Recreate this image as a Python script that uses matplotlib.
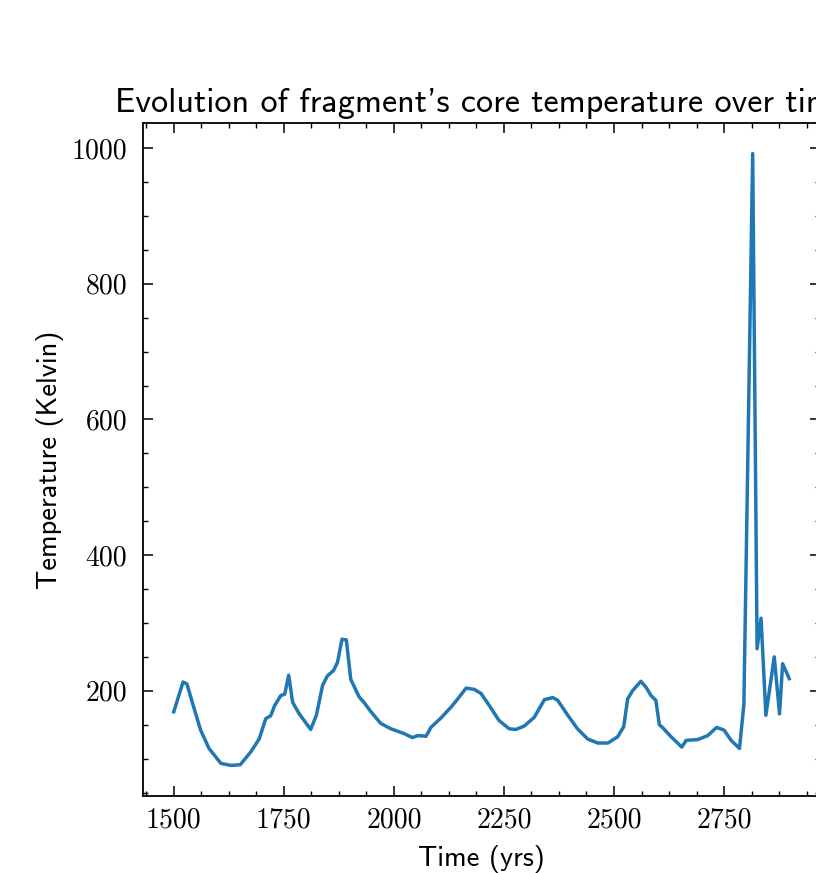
import matplotlib
matplotlib.use("Agg")
import matplotlib.pyplot as plt
from matplotlib.ticker import AutoMinorLocator

# values
time_yrs = [1500, 1521, 1530, 1542, 1561, 1580, 1607, 1630, 1651, 1675, 1694,
            1709, 1720, 1729, 1743, 1752, 1761, 1770, 1785, 1811, 1824, 1838,
            1849, 1863, 1872, 1882, 1892, 1902, 1921, 1932, 1948, 1970, 1993,
            2023, 2042, 2054, 2073, 2084, 2107, 2130, 2145, 2164, 2183, 2198,
            2217, 2239, 2262, 2277, 2296, 2319, 2342, 2361, 2372, 2395, 2417,
            2440, 2463, 2486, 2508, 2522, 2531, 2542, 2561, 2573, 2584, 2595,
            2603, 2610, 2630, 2654, 2664, 2690, 2713, 2733, 2750, 2766, 2785,
            2795, 2815, 2825, 2834, 2845, 2864, 2876, 2883, 2898]
temp_k = [169, 213, 210, 183, 142, 115, 93, 90, 91, 110, 129,
          159, 163, 178, 193, 195, 223, 183, 166, 143, 164, 208,
          222, 230, 242, 276, 275, 217, 191, 183, 169, 152, 144,
          137, 131, 134, 133, 146, 160, 176, 188, 204, 202, 196,
          178, 156, 144, 143, 148, 161, 187, 190, 186, 164, 144,
          129, 123, 123, 132, 147, 188, 200, 214, 205, 193, 186,
          150, 146, 132, 117, 127, 128, 134, 146, 142, 127, 115,
          180, 992, 262, 307, 164, 250, 166, 240, 218]

plt.rcParams['xtick.direction'] = 'in'
plt.rcParams['ytick.direction'] = 'in'
plt.rcParams['xtick.top'] = True
plt.rcParams['ytick.right'] = True

fig = plt.figure(figsize=(8.16, 8.73), dpi=100)
ax = fig.add_axes([143/816, 77/873, 677/816, 673/873])

ax.plot(time_yrs, temp_k, color='#1f77b4', lw=2.5)

ax.set_title("Evolution of fragment's core temperature over time",
             family='cmss10', fontsize=24.5, pad=8)
ax.set_xlabel('Time (yrs)', family='cmss10', fontsize=20.5, labelpad=8)
ax.set_ylabel('Temperature (Kelvin)', family='cmss10', fontsize=20.5, labelpad=5.5)

ax.set_xticks([1500, 1750, 2000, 2250, 2500, 2750])
ax.set_yticks([200, 400, 600, 800, 1000])
ax.xaxis.set_minor_locator(AutoMinorLocator(4))
ax.yaxis.set_minor_locator(AutoMinorLocator(4))
ax.tick_params(which='major', length=7, width=1.1, labelsize=20)
ax.tick_params(axis='x', which='major', pad=8)
ax.tick_params(axis='y', which='major', pad=11.5)
ax.tick_params(which='minor', length=3.5, width=1.0, top=True, right=True)
for lab in ax.get_xticklabels() + ax.get_yticklabels():
    lab.set_family('cmr10')
for s in ax.spines.values():
    s.set_linewidth(1.3)

fig.savefig('out.png', dpi=100)
